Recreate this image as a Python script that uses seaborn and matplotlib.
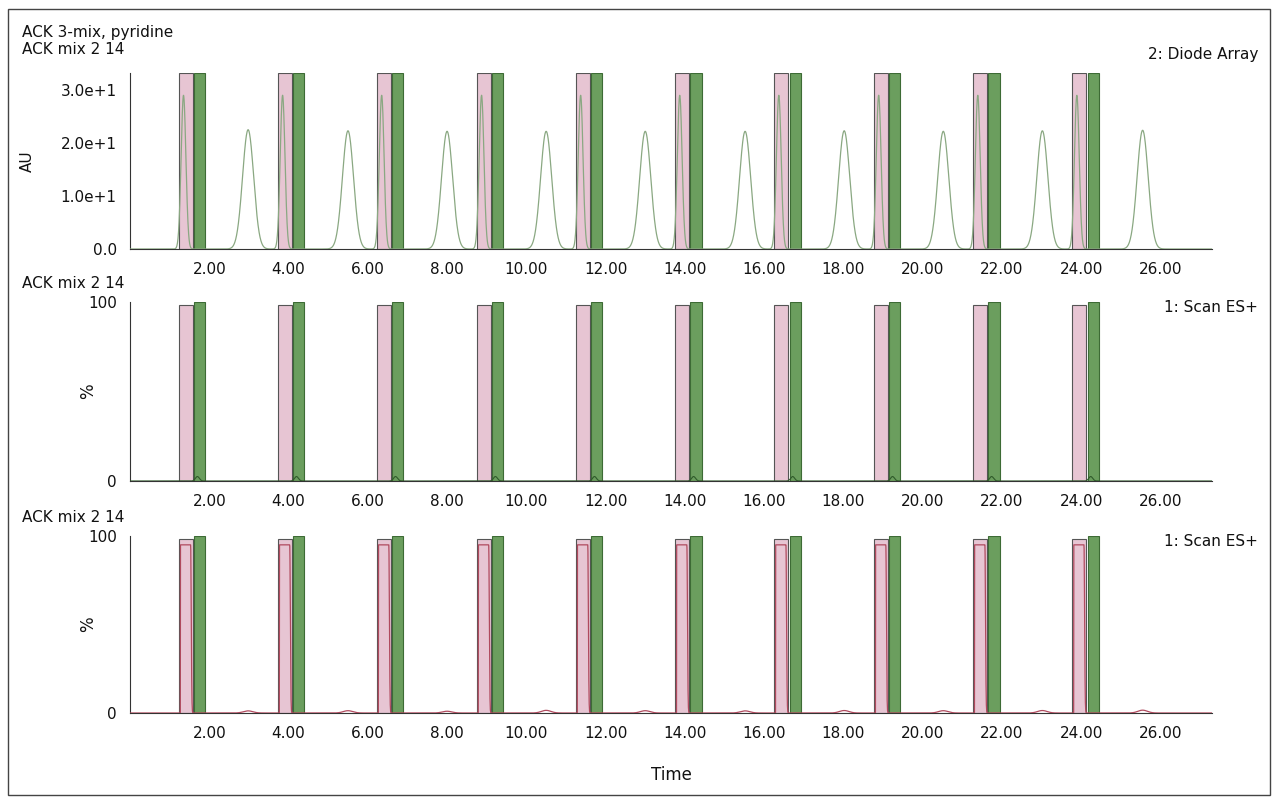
import numpy as np
import matplotlib
matplotlib.use("Agg")
import matplotlib.pyplot as plt
import seaborn as sns
import pandas as pd

sns.set_style("white")
plt.rcParams['font.family'] = ['Verdana', 'DejaVu Sans']
plt.rcParams['text.color'] = '#111111'
plt.rcParams['xtick.color'] = '#111111'
plt.rcParams['ytick.color'] = '#111111'
plt.rcParams['axes.labelcolor'] = '#111111'

# Data
pink_start = [1.24, 3.74, 6.24, 8.76, 11.26, 13.76, 16.26, 18.78, 21.28, 23.78]
pink_end   = [1.59, 4.09, 6.59, 9.11, 11.61, 14.11, 16.61, 19.13, 21.63, 24.13]
green_start = [1.62, 4.12, 6.62, 9.14, 11.64, 14.14, 16.64, 19.16, 21.66, 24.16]
green_end   = [1.90, 4.40, 6.90, 9.42, 11.92, 14.42, 16.92, 19.44, 21.94, 24.44]
sharp_peak_t = [1.35, 3.85, 6.35, 8.87, 11.37, 13.87, 16.37, 18.89, 21.39, 23.89]
sharp_peak_h = [29.0, 29.0, 29.0, 29.0, 29.0, 29.0, 29.0, 29.0, 29.0, 29.0]
broad_peak_t = [2.98, 5.50, 8.00, 10.50, 13.00, 15.52, 18.02, 20.52, 23.02, 25.55]
broad_peak_h = [22.5, 22.3, 22.2, 22.2, 22.2, 22.2, 22.3, 22.2, 22.3, 22.4]
ms_bump_h = [1.2, 1.3, 1.0, 1.5, 1.3, 1.2, 1.4, 1.3, 1.4, 1.6]
xticks = [2, 4, 6, 8, 10, 12, 14, 16, 18, 20, 22, 24, 26]

PINK = "#e7c5d3"
GREEN = "#6b9e5e"
t = np.linspace(0, 27.3, 6000)

def gauss(c, h, s):
    return h * np.exp(-0.5 * ((t - c) / s) ** 2)

uv = np.zeros_like(t)
for c, h in zip(sharp_peak_t, sharp_peak_h):
    uv += gauss(c, h, 0.06)
for c, h in zip(broad_peak_t, broad_peak_h):
    uv += gauss(c, h, 0.14)

ms_red = np.zeros_like(t)
for s0, e0 in zip(pink_start, pink_end):
    m = (t > s0 + 0.03) & (t < e0 - 0.06)
    ms_red[m] = 95
    ms_red += gauss(e0 - 0.06, 95, 0.015) * (t >= e0 - 0.06)
ms_red = np.where(ms_red > 96, 96, ms_red)
for c, h in zip(broad_peak_t, ms_bump_h):
    ms_red += gauss(c, h, 0.12)
ms_green = np.zeros_like(t)
for s0 in green_start:
    ms_green += gauss(s0 + 0.08, 2.5, 0.05)

fig = plt.figure(figsize=(12.8, 8.01), dpi=100)
W, H = 1280, 801
L, R = 130, 1212
panels = [(73, 249), (302, 481), (536, 713)]
axes = []
for top, bot in panels:
    ax = fig.add_axes([L / W, 1 - bot / H, (R - L) / W, (bot - top) / H])
    axes.append(ax)

fig.patches.append(plt.Rectangle((8 / W, 6 / H), 1262 / W, 786 / H, transform=fig.transFigure,
                                 fill=False, ec="#444444", lw=1))

ymaxes = [33.2, 100, 100]
for i, ax in enumerate(axes):
    ymax = ymaxes[i]
    for s0, e0 in zip(pink_start, pink_end):
        ax.axvspan(s0, e0, ymax=0.985 if i else 1.0, color=PINK, ec="#555555", lw=0.8, zorder=1)
    for s0, e0 in zip(green_start, green_end):
        ax.axvspan(s0, e0, color=GREEN, ec="#3d6b35", lw=0.8, zorder=1)
    ax.set_xlim(0, 27.3)
    ax.set_ylim(0, ymax)
    ax.set_xticks(xticks)
    ax.set_xticklabels([f"{v:.2f}" for v in xticks], fontsize=11)
    ax.set_xticks(np.arange(0, 27.3, 0.5), minor=True)
    ax.tick_params(axis="x", which="major", length=6, width=1, direction="out", color="#333333")
    ax.tick_params(axis="x", which="minor", length=4, width=0.8, direction="out", color="#333333")
    ax.tick_params(axis="y", which="major", length=6, direction="out", labelsize=11, color="#333333")
    ax.tick_params(axis="y", which="minor", length=4, direction="out", color="#333333")
    for sp in ["top", "right"]:
        ax.spines[sp].set_visible(False)
    for sp in ["left", "bottom"]:
        ax.spines[sp].set_color("#333333")

df1 = pd.DataFrame({"t": t, "v": uv})
sns.lineplot(data=df1, x="t", y="v", ax=axes[0], color="#8aa882", lw=0.9, zorder=3)
axes[0].set_yticks([0, 10, 20, 30])
axes[0].set_yticklabels(["0.0", "1.0e+1", "2.0e+1", "3.0e+1"])
axes[0].set_yticks(np.arange(0, 33.2, 2), minor=True)
axes[0].set_ylabel("AU", fontsize=11)

df2 = pd.DataFrame({"t": t, "v": ms_green})
sns.lineplot(data=df2, x="t", y="v", ax=axes[1], color="#2f5a2a", lw=0.8, zorder=3)
df3 = pd.DataFrame({"t": t, "v": ms_red})
sns.lineplot(data=df3, x="t", y="v", ax=axes[2], color="#b04a5e", lw=0.9, zorder=3)
for ax in axes[1:]:
    ax.set_yticks([0, 100])
    ax.set_yticks(np.arange(0, 100, 10), minor=True)
    ax.set_ylabel("%", fontsize=12)

for ax in axes:
    ax.set_xlabel("")
axes[0].yaxis.set_label_coords(-0.088, 0.5)
for ax in axes[1:]:
    ax.yaxis.set_label_coords(-0.03, 0.5)
axes[2].set_xlabel("Time", fontsize=12, labelpad=18)

fig.text(22 / W, 1 - 33 / H, "ACK 3-mix, pyridine", fontsize=11, va="center")
fig.text(22 / W, 1 - 50 / H, "ACK mix 2 14", fontsize=11, va="center")
fig.text(22 / W, 1 - 283 / H, "ACK mix 2 14", fontsize=11, va="center")
fig.text(22 / W, 1 - 517 / H, "ACK mix 2 14", fontsize=11, va="center")
fig.text(1258 / W, 1 - 55 / H, "2: Diode Array", fontsize=11, ha="right", va="center")
fig.text(1258 / W, 1 - 307 / H, "1: Scan ES+", fontsize=11, ha="right", va="center")
fig.text(1258 / W, 1 - 541 / H, "1: Scan ES+", fontsize=11, ha="right", va="center")

fig.savefig("out.png", dpi=100)
